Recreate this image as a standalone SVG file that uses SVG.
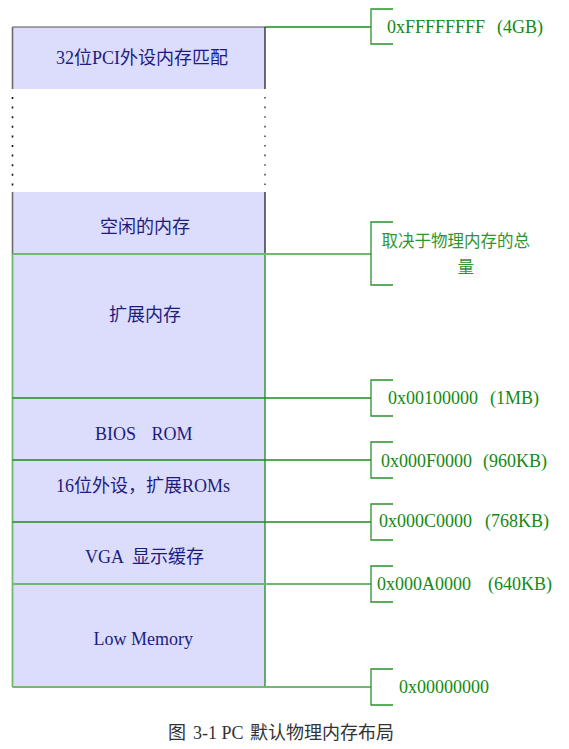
<svg xmlns="http://www.w3.org/2000/svg" width="569" height="749" viewBox="0 0 569 749">
<style>
.fill{fill:#dcdcfd;stroke:none}
.lbl{font-family:"Liberation Serif","Noto Sans CJK SC",serif;font-size:18px;fill:#1c1c80}
.addr{font-family:"Liberation Serif","Noto Sans CJK SC",serif;font-size:18px;fill:#138a13}
.note{font-family:"Noto Sans CJK SC",sans-serif;font-size:16.5px;fill:#2f962f}
.cap{font-family:"Liberation Serif","Noto Sans CJK SC",serif;font-size:18px;fill:#333}
.dk{stroke:#1a8c1a;stroke-width:1.3;fill:none}
.lt{stroke:#72b872;stroke-width:1.8;fill:none}
.br{stroke:#2a922a;stroke-width:1.3;fill:none}
</style>
<rect width="569" height="749" fill="#fff"/>
<g id="pci">
<rect class="fill" x="12.5" y="27" width="252.5" height="62"/>
<line x1="12.5" y1="27" x2="265" y2="27" stroke="#555" stroke-width="1.2"/>
<line x1="12.5" y1="27" x2="12.5" y2="89" stroke="#6b6b6b" stroke-width="1.6"/>
<line x1="265" y1="27" x2="265" y2="89" stroke="#111" stroke-width="1.2"/>
<text class="lbl" x="56" y="64">32位PCI外设内存匹配</text>
</g>
<g id="gap">
<line x1="12.5" y1="97" x2="12.5" y2="186" stroke="#111" stroke-width="1.6" stroke-dasharray="2 7.6"/>
<line x1="265" y1="97" x2="265" y2="186" stroke="#111" stroke-width="1.2" stroke-dasharray="1.6 8"/>
</g>
<g id="free">
<rect class="fill" x="12.5" y="192" width="252.5" height="62"/>
<line x1="12.5" y1="192" x2="12.5" y2="254" stroke="#6b6b6b" stroke-width="1.6"/>
<line x1="265" y1="192" x2="265" y2="254" stroke="#111" stroke-width="1.2"/>
<text class="lbl" x="145" y="233" text-anchor="middle">空闲的内存</text>
</g>
<g id="ext">
<rect class="fill" x="12.5" y="254" width="252.5" height="144"/>
<text class="lbl" x="145" y="321" text-anchor="middle">扩展内存</text>
</g>
<g id="bios">
<rect class="fill" x="12.5" y="398" width="252.5" height="62"/>
<text class="lbl" y="440"><tspan x="95">BIOS</tspan><tspan x="151.5">ROM</tspan></text>
</g>
<g id="rom16">
<rect class="fill" x="12.5" y="460" width="252.5" height="62"/>
<text class="lbl" x="56" y="492">16位外设，扩展ROMs</text>
</g>
<g id="vga">
<rect class="fill" x="12.5" y="522" width="252.5" height="62"/>
<text class="lbl" y="563"><tspan x="85">VGA</tspan><tspan x="132">显示缓存</tspan></text>
</g>
<g id="low">
<rect class="fill" x="12.5" y="584" width="252.5" height="103"/>
<text class="lbl" x="93.5" y="645">Low Memory</text>
</g>
<g id="edges">
<line class="lt" x1="12.5" y1="254" x2="12.5" y2="687"/>
<line class="dk" x1="265" y1="254" x2="265" y2="687"/>
</g>
<g id="connectors">
<line class="dk" x1="265" y1="27" x2="371" y2="27"/>
<line class="lt" x1="12.5" y1="254" x2="371" y2="254"/>
<line class="dk" x1="12.5" y1="398" x2="371" y2="398"/>
<line class="dk" x1="12.5" y1="460" x2="371" y2="460"/>
<line class="dk" x1="12.5" y1="522" x2="371" y2="522"/>
<line class="lt" x1="12.5" y1="584" x2="371" y2="584"/>
<line class="lt" x1="12.5" y1="687" x2="371" y2="687"/>
<path class="br" d="M393,9H371V44H393"/>
<path class="br" d="M393,222H371V285H393"/>
<path class="br" d="M393,380H371V416H393"/>
<path class="br" d="M393,442H371V478H393"/>
<path class="br" d="M393,504H371V540H393"/>
<path class="br" d="M393,566H371V602H393"/>
<path class="br" d="M393,669H371V705H393"/>
</g>
<g id="addresses">
<text class="addr" y="33"><tspan x="387">0xFFFFFFFF</tspan><tspan x="497">(4GB)</tspan></text>
<text class="note" x="381.5" y="247">取决于物理内存的总</text>
<text class="note" x="457.5" y="273">量</text>
<text class="addr" y="404"><tspan x="388">0x00100000</tspan><tspan x="490">(1MB)</tspan></text>
<text class="addr" y="466.5"><tspan x="381">0x000F0000</tspan><tspan x="483">(960KB)</tspan></text>
<text class="addr" y="527"><tspan x="379">0x000C0000</tspan><tspan x="485">(768KB)</tspan></text>
<text class="addr" y="590"><tspan x="377">0x000A0000</tspan><tspan x="488">(640KB)</tspan></text>
<text class="addr" x="399" y="692.5">0x00000000</text>
</g>
<text class="cap" y="739"><tspan x="168">图</tspan><tspan x="193">3-1 PC</tspan><tspan x="250">默认物理内存布局</tspan></text>
</svg>
